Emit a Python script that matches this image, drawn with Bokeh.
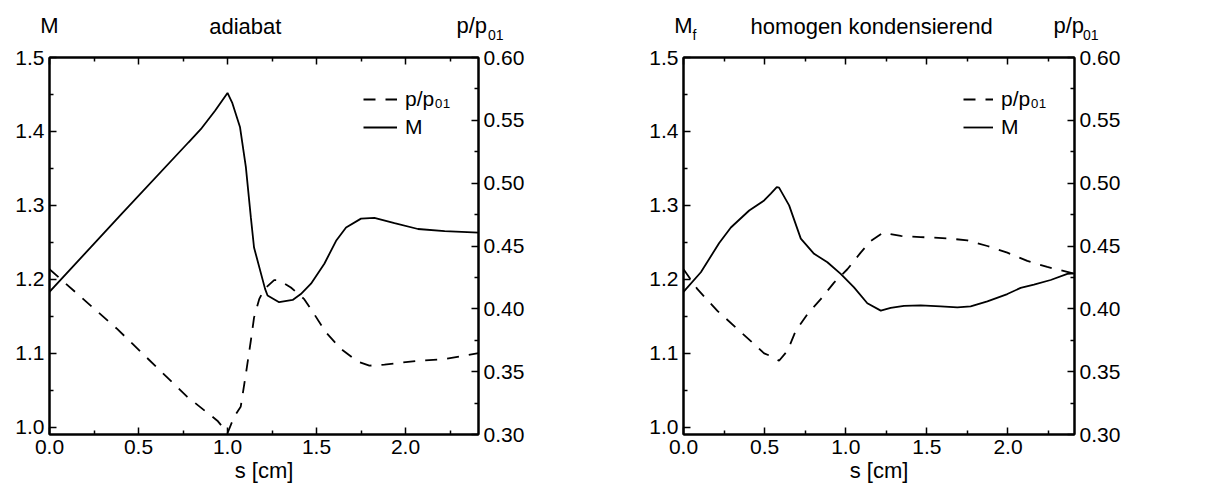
from bokeh.plotting import figure
from bokeh.layouts import row, column
from bokeh.models import (Range1d, LinearAxis, FixedTicker, NumeralTickFormatter,
                          Legend, LegendItem)
from bokeh.core.properties import value
from bokeh.embed import file_html
from bokeh.resources import INLINE

# ---------------- data ----------------
# left panel: adiabat
s_M_adiabat = [0.0, 0.40, 0.78, 0.85, 0.93, 1.0, 1.026, 1.07, 1.103, 1.131, 1.149, 1.211,
               1.225, 1.29, 1.366, 1.412, 1.469, 1.544, 1.61, 1.666, 1.75, 1.825, 1.938,
               2.07, 2.22, 2.41]
M_adiabat = [1.183, 1.287, 1.385, 1.403, 1.428, 1.452, 1.439, 1.406, 1.352, 1.284, 1.243, 1.187,
             1.178, 1.169, 1.172, 1.180, 1.194, 1.221, 1.252, 1.270, 1.282, 1.283, 1.276,
             1.268, 1.265, 1.263]
s_p_adiabat = [0.0, 0.38, 0.774, 0.943, 0.99, 1.0, 1.037, 1.074, 1.103, 1.131, 1.149, 1.178,
               1.206, 1.262, 1.29, 1.356, 1.431, 1.487, 1.553, 1.638, 1.732, 1.797, 1.882,
               2.07, 2.22, 2.41]
p_adiabat = [0.4315, 0.384, 0.330, 0.311, 0.303, 0.301, 0.314, 0.322, 0.348, 0.3746, 0.393, 0.4077,
             0.4156, 0.4228, 0.4228, 0.417, 0.4077, 0.3958, 0.3812, 0.368, 0.358, 0.3548, 0.3556,
             0.3587, 0.360, 0.3648]

# right panel: homogen kondensierend
s_M_kond = [0.0, 0.107, 0.22, 0.292, 0.405, 0.497, 0.538, 0.575, 0.589, 0.651, 0.723, 0.805,
            0.887, 0.969, 1.051, 1.133, 1.216, 1.277, 1.359, 1.462, 1.585, 1.688, 1.77, 1.873,
            1.996, 2.078, 2.16, 2.263, 2.366, 2.41]
M_kond = [1.183, 1.2095, 1.249, 1.270, 1.293, 1.3066, 1.316, 1.3247, 1.324, 1.300, 1.255, 1.2344,
          1.223, 1.2073, 1.189, 1.1675, 1.1576, 1.1612, 1.164, 1.1648, 1.1634, 1.162, 1.1634, 1.170,
          1.180, 1.1883, 1.1928, 1.199, 1.2073, 1.208]
s_p_kond = [0.0, 0.086, 0.209, 0.333, 0.435, 0.497, 0.548, 0.589, 0.641, 0.692, 0.764, 0.846,
            0.928, 1.01, 1.092, 1.154, 1.23, 1.339, 1.462, 1.626, 1.75, 1.873, 1.996, 2.119,
            2.242, 2.41]
p_kond = [0.4315, 0.4156, 0.3984, 0.3839, 0.372, 0.3645, 0.3619, 0.3587, 0.3667, 0.3825, 0.3958,
          0.4077, 0.4209, 0.4315, 0.4447, 0.454, 0.4606, 0.458, 0.4571, 0.4561, 0.4545, 0.45,
          0.4447, 0.4381, 0.4333, 0.428]

# axis ranges and tick positions
x_range_lim = [0.0, 2.41]
M_range_lim = [0.99, 1.5]
p_range_lim = [0.30, 0.60]
x_ticks = [0.0, 0.5, 1.0, 1.5, 2.0]
x_minor = [0.25, 0.75, 1.25, 1.75, 2.25]
M_ticks = [1.0, 1.1, 1.2, 1.3, 1.4, 1.5]
M_minor = [1.05, 1.15, 1.25, 1.35, 1.45]
p_ticks = [0.30, 0.35, 0.40, 0.45, 0.50, 0.55, 0.60]
p_minor = [0.325, 0.375, 0.425, 0.475, 0.525, 0.575]

FONT = "Liberation Sans"
TICK_SIZE = "21px"
TITLE_SIZE = "22px"
SUB_SIZE = "14px"

TOTAL_H = 487
HEAD_H = 44
BORDER_TOP = 13
BORDER_BOTTOM = 53


def style_axis(ax, show_labels=True):
    ax.axis_line_width = 2
    ax.axis_line_color = "black"
    ax.major_tick_in = 7
    ax.major_tick_out = 0
    ax.minor_tick_in = 4
    ax.minor_tick_out = 0
    ax.major_tick_line_width = 1.5
    ax.minor_tick_line_width = 1.5
    ax.major_tick_line_color = "black"
    ax.minor_tick_line_color = "black"
    ax.major_label_text_font = FONT
    if show_labels:
        ax.major_label_text_font_size = TICK_SIZE
        ax.major_label_text_color = "black"
        ax.major_label_standoff = 5
    else:
        ax.major_label_text_font_size = "0px"
        ax.major_label_text_color = None
        ax.major_label_standoff = 0


def main_panel(width, border_left, frame_w, s_M, M, s_p, p, glyph_w):
    f = figure(width=width, height=TOTAL_H - HEAD_H, output_backend="svg",
               toolbar_location=None,
               x_range=Range1d(*x_range_lim), y_range=Range1d(*M_range_lim),
               min_border_left=border_left, min_border_right=width - border_left - frame_w,
               min_border_top=BORDER_TOP, min_border_bottom=BORDER_BOTTOM,
               x_axis_location=None, y_axis_location=None)
    f.xgrid.visible = False
    f.ygrid.visible = False
    f.outline_line_color = "black"
    f.outline_line_width = 2
    f.background_fill_color = "white"
    f.border_fill_color = "white"
    f.extra_y_ranges = {"p": Range1d(*p_range_lim)}

    bottom = LinearAxis(ticker=FixedTicker(ticks=x_ticks, minor_ticks=x_minor),
                        formatter=NumeralTickFormatter(format="0.0"),
                        axis_label="s [cm]")
    style_axis(bottom)
    bottom.axis_label_text_font = FONT
    bottom.axis_label_text_font_size = TITLE_SIZE
    bottom.axis_label_text_font_style = "normal"
    bottom.axis_label_text_color = "black"
    bottom.axis_label_standoff = 1
    f.add_layout(bottom, "below")

    top = LinearAxis(ticker=FixedTicker(ticks=x_ticks, minor_ticks=x_minor))
    style_axis(top, show_labels=False)
    f.add_layout(top, "above")

    left = LinearAxis(ticker=FixedTicker(ticks=M_ticks, minor_ticks=M_minor),
                      formatter=NumeralTickFormatter(format="0.0"))
    style_axis(left)
    f.add_layout(left, "left")

    right = LinearAxis(y_range_name="p",
                       ticker=FixedTicker(ticks=p_ticks, minor_ticks=p_minor),
                       formatter=NumeralTickFormatter(format="0.00"))
    style_axis(right)
    f.add_layout(right, "right")

    rp = f.line(s_p, p, y_range_name="p", line_color="black", line_width=1.8,
                line_dash="12 10")
    rM = f.line(s_M, M, line_color="black", line_width=1.8)

    legend = Legend(items=[LegendItem(label="p/p\u2080\u2081", renderers=[rp]),
                           LegendItem(label="M", renderers=[rM])],
                    location="top_right")
    legend.border_line_color = None
    legend.background_fill_alpha = 0
    legend.label_text_font = FONT
    legend.label_text_font_size = TICK_SIZE
    legend.label_text_color = "black"
    legend.glyph_width = glyph_w
    legend.glyph_height = 28
    legend.label_height = 28
    legend.spacing = 0
    legend.padding = 0
    legend.margin = 28
    legend.label_standoff = 8
    f.add_layout(legend)
    return f


def header(width, border_left, frame_w, title, title_x, y_sub, pp_off, sub_off, f_off):
    # header strip whose x scale continues the x scale of the panel below it
    x0, x1 = x_range_lim
    per_px = (x1 - x0) / frame_w
    hx = Range1d(x0 - border_left * per_px, x1 + (width - border_left - frame_w) * per_px)
    h = figure(width=width, height=HEAD_H, output_backend="svg", toolbar_location=None,
               x_range=hx, y_range=Range1d(HEAD_H, 0),
               min_border_left=0, min_border_right=0, min_border_top=0, min_border_bottom=0,
               x_axis_location=None, y_axis_location=None)
    h.xgrid.visible = False
    h.ygrid.visible = False
    h.outline_line_color = None
    h.background_fill_color = "white"
    h.border_fill_color = "white"
    mid = 24.8       # vertical centre of the large header texts (px from top)
    sub_mid = 34.6   # vertical centre of the subscripts
    big = dict(text_font=value(FONT), text_font_size=value(TITLE_SIZE), text_color="black",
               text_baseline="middle")
    small = dict(text_font=value(FONT), text_font_size=value(SUB_SIZE), text_color="black",
                 text_baseline="middle")
    h.text(x=[x0], y=[mid], text=["M"], text_align="center", **big)
    if y_sub:
        h.text(x=[x0], y=[sub_mid], text=[y_sub], text_align="left", x_offset=f_off, **small)
    h.text(x=[title_x], y=[mid + 1.5], text=[title], text_align="center", **big)
    h.text(x=[x1], y=[mid], text=["p/p"], text_align="left", x_offset=pp_off, **big)
    h.text(x=[x1], y=[sub_mid], text=["01"], text_align="left", x_offset=sub_off, **small)
    return h


h1 = header(600, 49, 429, "adiabat", 1.10, "", -22, 9.5, 9)
h2 = header(612, 83, 391, "homogen kondensierend", 1.16, "f", -21, 8.5, 9)
f1 = main_panel(600, 49, 429, s_M_adiabat, M_adiabat, s_p_adiabat, p_adiabat, 34)
f2 = main_panel(612, 83, 391, s_M_kond, M_kond, s_p_kond, p_kond, 30)

layout = column(row(h1, h2), row(f1, f2))
open("out.html", "w").write(file_html(layout, INLINE))
